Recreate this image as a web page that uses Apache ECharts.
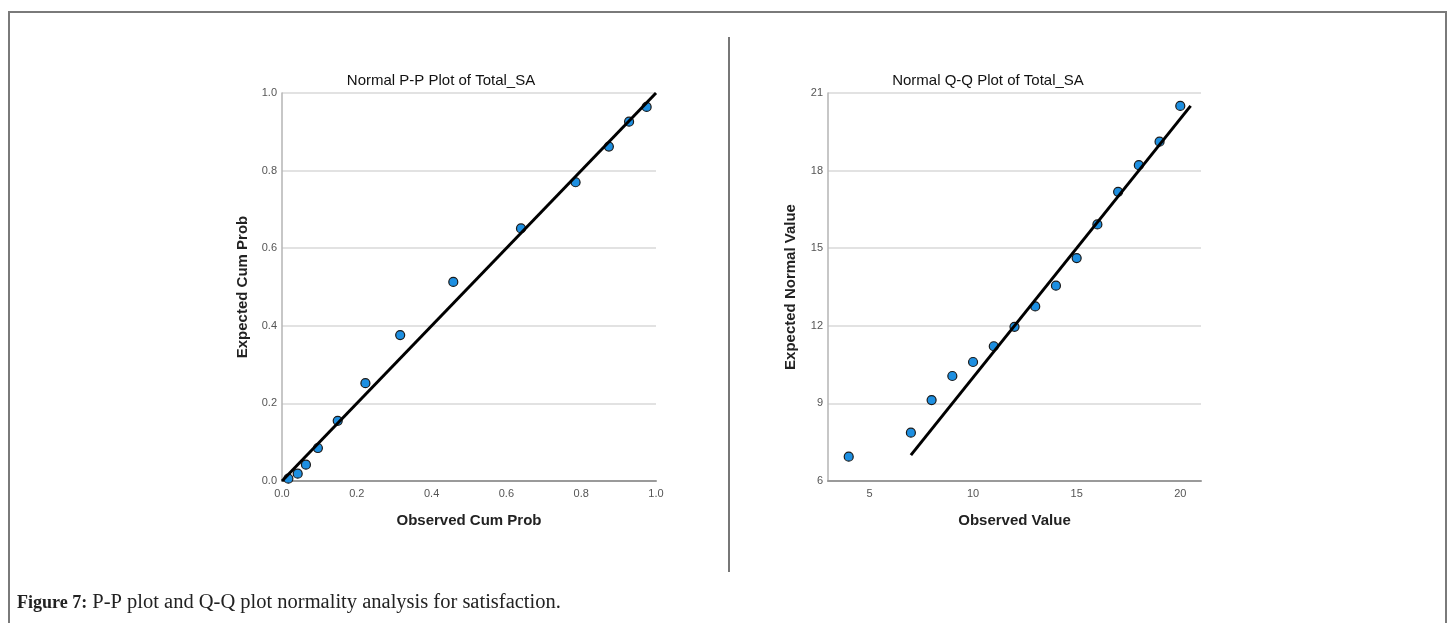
<!DOCTYPE html>
<html lang="en">
<head>
<meta charset="UTF-8">
<title>P-P and Q-Q plots of Total_SA</title>
<script src="https://cdn.jsdelivr.net/npm/echarts@6/dist/echarts.min.js"></script>
<style>
html, body { margin: 0; padding: 0; background: #fff; }
#chart { width: 1454px; height: 623px; }
</style>
</head>
<body>
<div id="chart"></div>
<script>
// P-P plot: observed vs expected cumulative probability
const ppObserved = [0.017, 0.042, 0.064, 0.096, 0.149, 0.223, 0.316, 0.458, 0.639, 0.785, 0.874, 0.928, 0.975];
const ppExpected = [0.006, 0.019, 0.042, 0.085, 0.155, 0.252, 0.376, 0.513, 0.651, 0.770, 0.862, 0.926, 0.964];
const ppRefLine = [[0, 0], [1, 1]];

// Q-Q plot: observed vs expected normal value
const qqObserved = [4, 7, 8, 9, 10, 11, 12, 13, 14, 15, 16, 17, 18, 19, 20];
const qqExpected = [6.94, 7.87, 9.13, 10.06, 10.60, 11.21, 11.96, 12.75, 13.55, 14.62, 15.92, 17.18, 18.21, 19.12, 20.50];
const qqRefLine = [[7, 7], [20.5, 20.5]];
const qqXTicks = [5, 10, 15, 20];

const captionBold = 'Figure 7:';
const captionText = ' P-P plot and Q-Q plot normality analysis for satisfaction.';

const FONT = '"Liberation Sans", Arial, sans-serif';
const SERIF = '"Liberation Serif", "DejaVu Serif", serif';

function zip(xs, ys) {
  return xs.map((x, i) => [x, ys[i]]);
}

const labelStyle = { color: '#555', fontSize: 11, fontFamily: FONT };
const nameStyle = { color: '#222', fontSize: 15, fontWeight: 'bold', fontFamily: FONT };

const chart = echarts.init(document.getElementById('chart'), null, { renderer: 'canvas' });

const option = {
  animation: false,
  backgroundColor: '#fff',
  grid: [
    { left: 282, top: 93, width: 374, height: 388 },
    { left: 828, top: 93, width: 373, height: 388 }
  ],
  xAxis: [
    {
      gridIndex: 0, type: 'value', min: 0, max: 1, interval: 0.2,
      name: 'Observed Cum Prob', nameLocation: 'middle', nameGap: 32, nameTextStyle: nameStyle,
      axisLine: { show: true, onZero: false, lineStyle: { color: '#9a9a9a', width: 2 } },
      axisTick: { show: false },
      axisLabel: Object.assign({ margin: 7, formatter: v => v.toFixed(1) }, labelStyle),
      splitLine: { show: false }
    },
    {
      gridIndex: 1, type: 'value', min: 3, max: 21,
      name: 'Observed Value', nameLocation: 'middle', nameGap: 32, nameTextStyle: nameStyle,
      axisLine: { show: true, onZero: false, lineStyle: { color: '#9a9a9a', width: 2 } },
      axisTick: { show: false },
      axisLabel: Object.assign({ margin: 7, customValues: qqXTicks }, labelStyle),
      splitLine: { show: false }
    }
  ],
  yAxis: [
    {
      gridIndex: 0, type: 'value', min: 0, max: 1, interval: 0.2,
      name: 'Expected Cum Prob', nameLocation: 'middle', nameGap: 32, nameTextStyle: nameStyle,
      axisLine: { show: true, onZero: false, lineStyle: { color: '#b5b5b5', width: 1.5 } },
      axisTick: { show: false },
      axisLabel: Object.assign({ margin: 5, formatter: v => v.toFixed(1) }, labelStyle),
      splitLine: { show: true, lineStyle: { color: '#d8d8d8', width: 1.5 } }
    },
    {
      gridIndex: 1, type: 'value', min: 6, max: 21, interval: 3,
      name: 'Expected Normal Value', nameLocation: 'middle', nameGap: 30, nameTextStyle: nameStyle,
      axisLine: { show: true, onZero: false, lineStyle: { color: '#b5b5b5', width: 1.5 } },
      axisTick: { show: false },
      axisLabel: Object.assign({ margin: 5 }, labelStyle),
      splitLine: { show: true, lineStyle: { color: '#d8d8d8', width: 1.5 } }
    }
  ],
  series: [
    {
      type: 'scatter', xAxisIndex: 0, yAxisIndex: 0, z: 2,
      symbol: 'circle', symbolSize: 9,
      itemStyle: { color: '#1d8fe1', borderColor: '#1a1a1a', borderWidth: 1.2, opacity: 1 },
      data: zip(ppObserved, ppExpected)
    },
    {
      type: 'line', xAxisIndex: 0, yAxisIndex: 0, z: 3,
      symbol: 'none', silent: true,
      lineStyle: { color: '#000', width: 3 },
      data: ppRefLine
    },
    {
      type: 'scatter', xAxisIndex: 1, yAxisIndex: 1, z: 2,
      symbol: 'circle', symbolSize: 9,
      itemStyle: { color: '#1d8fe1', borderColor: '#1a1a1a', borderWidth: 1.2, opacity: 1 },
      data: zip(qqObserved, qqExpected)
    },
    {
      type: 'line', xAxisIndex: 1, yAxisIndex: 1, z: 3,
      symbol: 'none', silent: true,
      lineStyle: { color: '#000', width: 3 },
      data: qqRefLine
    }
  ],
  graphic: [
    // outer frame (bottom edge runs past the picture)
    { type: 'rect', shape: { x: 9, y: 12, width: 1437, height: 700 },
      style: { fill: null, stroke: '#7a7a7a', lineWidth: 2 }, silent: true },
    // divider between the two panels
    { type: 'line', shape: { x1: 729, y1: 37, x2: 729, y2: 572 },
      style: { stroke: '#777', lineWidth: 2 }, silent: true },
    { type: 'text', x: 441, y: 81, silent: true,
      style: { text: 'Normal P-P Plot of Total_SA', fill: '#111', font: '15px ' + FONT,
               textAlign: 'center', textVerticalAlign: 'middle' } },
    { type: 'text', x: 988, y: 81, silent: true,
      style: { text: 'Normal Q-Q Plot of Total_SA', fill: '#111', font: '15px ' + FONT,
               textAlign: 'center', textVerticalAlign: 'middle' } },
    { type: 'text', x: 17, y: 603, silent: true,
      style: {
        text: '{b|' + captionBold + '}{r|' + captionText + '}',
        textVerticalAlign: 'middle',
        rich: {
          b: { fontFamily: SERIF, fontSize: 18, fontWeight: 'bold', fill: '#222' },
          r: { fontFamily: SERIF, fontSize: 20.5, fill: '#222' }
        }
      } }
  ]
};

chart.setOption(option);
window.addEventListener('resize', () => chart.resize());
</script>
</body>
</html>
